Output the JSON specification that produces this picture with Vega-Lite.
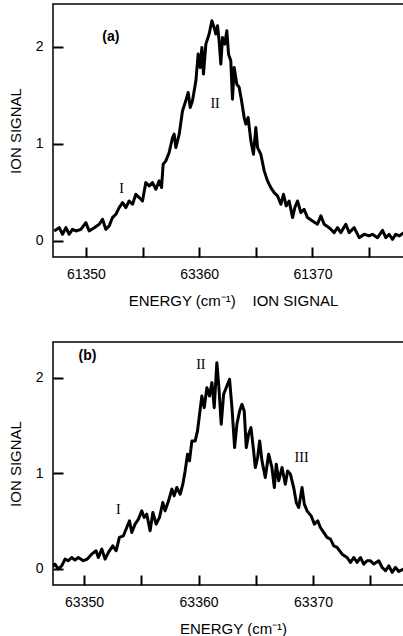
{
  "$schema": "https://vega.github.io/schema/vega-lite/v6.json",
  "padding": {"left": 7, "top": 3, "right": 0, "bottom": 0},
  "config": {
    "font": "Liberation Sans",
    "view": {"stroke": "black", "strokeWidth": 1.5},
    "axis": {"grid": false, "domain": false, "offset": -10, "ticks": true, "tickColor": "black", "tickWidth": 2, "tickSize": 10, "labelPadding": 10, "labelColor": "black", "labelFontSize": 14, "labelFont": "Liberation Sans", "titleFont": "Liberation Sans", "titleFontSize": 15, "titleFontWeight": "normal", "titleColor": "black", "labelFlush": false, "labelOverlap": false},
    "concat": {"spacing": 32}
  },
  "vconcat": [
    {
      "width": 360, "height": 253,
      "encoding": {
        "x": {"field": "energy", "type": "quantitative", "scale": {"domain": [63347.1, 63378.87], "nice": false, "zero": false},
              "axis": {"values": [63350, 63355, 63360, 63365, 63370, 63375], "labelExpr": "datum.value == 63350 ? '61350' : datum.value == 63360 ? '63360' : datum.value == 63370 ? '61370' : ''", "title": "ENERGY (cm⁻¹)\u00a0\u00a0\u00a0\u00a0ION SIGNAL", "titlePadding": 12}},
        "y": {"field": "signal", "type": "quantitative", "scale": {"domain": [-0.165, 2.44], "nice": false, "zero": false},
              "axis": {"values": [0, 1, 2], "title": "ION SIGNAL", "titlePadding": 12}}
      },
      "layer": [
        {
          "data": {"values": [
            {"energy": 63347.21, "signal": 0.103}, {"energy": 63347.65, "signal": 0.137}, {"energy": 63347.94, "signal": 0.069}, {"energy": 63348.24, "signal": 0.137}, {"energy": 63348.53, "signal": 0.069}, {"energy": 63348.82, "signal": 0.120}, {"energy": 63349.12, "signal": 0.103}, {"energy": 63349.56, "signal": 0.120}, {"energy": 63350.00, "signal": 0.189}, {"energy": 63350.29, "signal": 0.103}, {"energy": 63350.74, "signal": 0.137}, {"energy": 63351.18, "signal": 0.172}, {"energy": 63351.47, "signal": 0.223}, {"energy": 63351.76, "signal": 0.120}, {"energy": 63352.06, "signal": 0.155}, {"energy": 63352.35, "signal": 0.241}, {"energy": 63352.65, "signal": 0.275}, {"energy": 63352.94, "signal": 0.344}, {"energy": 63353.24, "signal": 0.395}, {"energy": 63353.53, "signal": 0.344}, {"energy": 63353.82, "signal": 0.412}, {"energy": 63354.12, "signal": 0.378}, {"energy": 63354.41, "signal": 0.481}, {"energy": 63354.71, "signal": 0.447}, {"energy": 63355.00, "signal": 0.412}, {"energy": 63355.29, "signal": 0.601}, {"energy": 63355.59, "signal": 0.567}, {"energy": 63355.88, "signal": 0.601}, {"energy": 63356.18, "signal": 0.533}, {"energy": 63356.47, "signal": 0.619}, {"energy": 63356.68, "signal": 0.550}, {"energy": 63356.82, "signal": 0.790}, {"energy": 63357.06, "signal": 0.825}, {"energy": 63357.35, "signal": 0.911}, {"energy": 63357.65, "signal": 1.065}, {"energy": 63357.79, "signal": 1.100}, {"energy": 63357.94, "signal": 0.962}, {"energy": 63358.24, "signal": 1.100}, {"energy": 63358.53, "signal": 1.340}, {"energy": 63358.82, "signal": 1.443}, {"energy": 63359.03, "signal": 1.529}, {"energy": 63359.21, "signal": 1.375}, {"energy": 63359.41, "signal": 1.443}, {"energy": 63359.71, "signal": 1.649}, {"energy": 63359.91, "signal": 1.924}, {"energy": 63360.09, "signal": 1.787}, {"energy": 63360.24, "signal": 1.993}, {"energy": 63360.38, "signal": 1.718}, {"energy": 63360.59, "signal": 2.027}, {"energy": 63360.88, "signal": 2.131}, {"energy": 63361.12, "signal": 2.268}, {"energy": 63361.32, "signal": 2.199}, {"energy": 63361.47, "signal": 2.131}, {"energy": 63361.62, "signal": 2.216}, {"energy": 63361.76, "signal": 2.062}, {"energy": 63361.91, "signal": 1.821}, {"energy": 63362.06, "signal": 2.096}, {"energy": 63362.26, "signal": 2.027}, {"energy": 63362.44, "signal": 2.165}, {"energy": 63362.59, "signal": 1.924}, {"energy": 63362.79, "signal": 1.856}, {"energy": 63362.94, "signal": 1.460}, {"energy": 63363.09, "signal": 1.787}, {"energy": 63363.32, "signal": 1.615}, {"energy": 63363.53, "signal": 1.581}, {"energy": 63363.74, "signal": 1.443}, {"energy": 63363.97, "signal": 1.271}, {"energy": 63364.12, "signal": 1.203}, {"energy": 63364.32, "signal": 1.271}, {"energy": 63364.56, "signal": 1.031}, {"energy": 63364.79, "signal": 0.893}, {"energy": 63365.00, "signal": 1.168}, {"energy": 63365.15, "signal": 0.962}, {"energy": 63365.44, "signal": 0.893}, {"energy": 63365.74, "signal": 0.722}, {"energy": 63366.03, "signal": 0.619}, {"energy": 63366.32, "signal": 0.550}, {"energy": 63366.62, "signal": 0.498}, {"energy": 63366.91, "signal": 0.464}, {"energy": 63367.21, "signal": 0.378}, {"energy": 63367.44, "signal": 0.481}, {"energy": 63367.68, "signal": 0.361}, {"energy": 63367.94, "signal": 0.412}, {"energy": 63368.24, "signal": 0.241}, {"energy": 63368.44, "signal": 0.344}, {"energy": 63368.68, "signal": 0.412}, {"energy": 63368.97, "signal": 0.292}, {"energy": 63369.26, "signal": 0.326}, {"energy": 63369.56, "signal": 0.241}, {"energy": 63370.00, "signal": 0.206}, {"energy": 63370.44, "signal": 0.172}, {"energy": 63370.74, "signal": 0.258}, {"energy": 63371.03, "signal": 0.172}, {"energy": 63371.47, "signal": 0.137}, {"energy": 63371.91, "signal": 0.086}, {"energy": 63372.21, "signal": 0.137}, {"energy": 63372.50, "signal": 0.086}, {"energy": 63372.94, "signal": 0.172}, {"energy": 63373.24, "signal": 0.086}, {"energy": 63373.68, "signal": 0.137}, {"energy": 63374.12, "signal": 0.034}, {"energy": 63374.56, "signal": 0.069}, {"energy": 63375.00, "signal": 0.052}, {"energy": 63375.29, "signal": 0.069}, {"energy": 63375.74, "signal": 0.034}, {"energy": 63376.18, "signal": 0.110}, {"energy": 63376.47, "signal": 0.034}, {"energy": 63376.76, "signal": 0.069}, {"energy": 63377.06, "signal": 0.017}, {"energy": 63377.35, "signal": 0.069}, {"energy": 63377.65, "signal": 0.052}, {"energy": 63378.06, "signal": 0.086}
          ]},
          "mark": {"type": "line", "color": "black", "strokeWidth": 3, "strokeJoin": "round", "clip": true}
        },
        {
          "data": {"values": [{"energy": 63352.2, "signal": 2.10, "label": "(a)"}]},
          "mark": {"type": "text", "font": "Liberation Sans", "fontWeight": "bold", "fontSize": 14, "color": "black"},
          "encoding": {"text": {"field": "label"}}
        },
        {
          "data": {"values": [{"energy": 63353.15, "signal": 0.536, "label": "I"}, {"energy": 63361.4, "signal": 1.41, "label": "II"}]},
          "mark": {"type": "text", "font": "Liberation Serif", "fontSize": 14, "color": "black"},
          "encoding": {"text": {"field": "label"}}
        }
      ]
    },
    {
      "width": 360, "height": 243,
      "encoding": {
        "x": {"field": "energy", "type": "quantitative", "scale": {"domain": [63347.29, 63378.73], "nice": false, "zero": false},
              "axis": {"values": [63350, 63355, 63360, 63365, 63370, 63375], "labelExpr": "datum.value % 10 == 0 ? format(datum.value, 'd') : ''", "title": "ENERGY (cm⁻¹)", "titlePadding": 12}},
        "y": {"field": "signal", "type": "quantitative", "scale": {"domain": [-0.17, 2.373], "nice": false, "zero": false},
              "axis": {"values": [0, 1, 2], "title": "ION SIGNAL", "titlePadding": 12}}
      },
      "layer": [
        {
          "data": {"values": [
            {"energy": 63347.17, "signal": 0.014}, {"energy": 63347.46, "signal": 0.049}, {"energy": 63347.76, "signal": -0.003}, {"energy": 63348.05, "signal": 0.031}, {"energy": 63348.34, "signal": 0.101}, {"energy": 63348.63, "signal": 0.084}, {"energy": 63348.92, "signal": 0.118}, {"energy": 63349.21, "signal": 0.091}, {"energy": 63349.50, "signal": 0.118}, {"energy": 63349.94, "signal": 0.084}, {"energy": 63350.29, "signal": 0.101}, {"energy": 63350.67, "signal": 0.153}, {"energy": 63351.05, "signal": 0.188}, {"energy": 63351.25, "signal": 0.118}, {"energy": 63351.55, "signal": 0.206}, {"energy": 63351.84, "signal": 0.101}, {"energy": 63352.13, "signal": 0.171}, {"energy": 63352.51, "signal": 0.240}, {"energy": 63352.80, "signal": 0.188}, {"energy": 63353.09, "signal": 0.328}, {"energy": 63353.44, "signal": 0.345}, {"energy": 63353.73, "signal": 0.432}, {"energy": 63353.97, "signal": 0.502}, {"energy": 63354.17, "signal": 0.380}, {"energy": 63354.46, "signal": 0.467}, {"energy": 63354.75, "signal": 0.519}, {"energy": 63355.04, "signal": 0.606}, {"energy": 63355.25, "signal": 0.537}, {"energy": 63355.48, "signal": 0.571}, {"energy": 63355.77, "signal": 0.397}, {"energy": 63356.01, "signal": 0.589}, {"energy": 63356.30, "signal": 0.467}, {"energy": 63356.59, "signal": 0.537}, {"energy": 63356.88, "signal": 0.693}, {"energy": 63357.08, "signal": 0.606}, {"energy": 63357.38, "signal": 0.711}, {"energy": 63357.67, "signal": 0.833}, {"energy": 63357.87, "signal": 0.763}, {"energy": 63358.10, "signal": 0.850}, {"energy": 63358.40, "signal": 0.780}, {"energy": 63358.63, "signal": 0.885}, {"energy": 63358.83, "signal": 1.024}, {"energy": 63359.04, "signal": 1.199}, {"energy": 63359.21, "signal": 1.129}, {"energy": 63359.42, "signal": 1.338}, {"energy": 63359.71, "signal": 1.338}, {"energy": 63359.91, "signal": 1.443}, {"energy": 63360.09, "signal": 1.617}, {"energy": 63360.29, "signal": 1.808}, {"energy": 63360.50, "signal": 1.686}, {"energy": 63360.73, "signal": 1.895}, {"energy": 63360.96, "signal": 1.808}, {"energy": 63361.17, "signal": 1.948}, {"energy": 63361.37, "signal": 1.686}, {"energy": 63361.60, "signal": 2.157}, {"energy": 63361.78, "signal": 1.895}, {"energy": 63361.98, "signal": 1.512}, {"energy": 63362.19, "signal": 1.826}, {"energy": 63362.42, "signal": 1.895}, {"energy": 63362.71, "signal": 1.983}, {"energy": 63362.92, "signal": 1.686}, {"energy": 63363.15, "signal": 1.268}, {"energy": 63363.35, "signal": 1.512}, {"energy": 63363.59, "signal": 1.652}, {"energy": 63363.79, "signal": 1.721}, {"energy": 63363.99, "signal": 1.652}, {"energy": 63364.17, "signal": 1.268}, {"energy": 63364.37, "signal": 1.408}, {"energy": 63364.58, "signal": 1.477}, {"energy": 63364.81, "signal": 1.233}, {"energy": 63364.96, "signal": 1.059}, {"energy": 63365.16, "signal": 1.164}, {"energy": 63365.34, "signal": 1.338}, {"energy": 63365.54, "signal": 1.129}, {"energy": 63365.83, "signal": 0.955}, {"energy": 63366.12, "signal": 1.199}, {"energy": 63366.41, "signal": 1.059}, {"energy": 63366.62, "signal": 0.850}, {"energy": 63366.79, "signal": 1.094}, {"energy": 63367.00, "signal": 0.920}, {"energy": 63367.29, "signal": 1.059}, {"energy": 63367.58, "signal": 0.885}, {"energy": 63367.78, "signal": 1.024}, {"energy": 63368.02, "signal": 0.990}, {"energy": 63368.31, "signal": 0.850}, {"energy": 63368.54, "signal": 0.693}, {"energy": 63368.75, "signal": 0.641}, {"energy": 63369.04, "signal": 0.850}, {"energy": 63369.24, "signal": 0.676}, {"energy": 63369.48, "signal": 0.606}, {"energy": 63369.83, "signal": 0.554}, {"energy": 63370.12, "signal": 0.467}, {"energy": 63370.41, "signal": 0.502}, {"energy": 63370.64, "signal": 0.432}, {"energy": 63370.93, "signal": 0.380}, {"energy": 63371.22, "signal": 0.328}, {"energy": 63371.52, "signal": 0.310}, {"energy": 63371.81, "signal": 0.240}, {"energy": 63372.10, "signal": 0.223}, {"energy": 63372.54, "signal": 0.153}, {"energy": 63372.97, "signal": 0.118}, {"energy": 63373.27, "signal": 0.066}, {"energy": 63373.56, "signal": 0.118}, {"energy": 63373.85, "signal": 0.066}, {"energy": 63374.14, "signal": 0.118}, {"energy": 63374.43, "signal": 0.049}, {"energy": 63374.72, "signal": 0.084}, {"energy": 63375.01, "signal": 0.084}, {"energy": 63375.31, "signal": 0.049}, {"energy": 63375.74, "signal": 0.084}, {"energy": 63376.03, "signal": 0.014}, {"energy": 63376.33, "signal": -0.021}, {"energy": 63376.62, "signal": 0.031}, {"energy": 63376.91, "signal": -0.038}, {"energy": 63377.20, "signal": 0.014}, {"energy": 63377.49, "signal": -0.028}, {"energy": 63377.90, "signal": -0.003}
          ]},
          "mark": {"type": "line", "color": "black", "strokeWidth": 3, "strokeJoin": "round", "clip": true}
        },
        {
          "data": {"values": [{"energy": 63350.3, "signal": 2.23, "label": "(b)"}]},
          "mark": {"type": "text", "font": "Liberation Sans", "fontWeight": "bold", "fontSize": 14, "color": "black"},
          "encoding": {"text": {"field": "label"}}
        },
        {
          "data": {"values": [{"energy": 63353.0, "signal": 0.61, "label": "I"}, {"energy": 63360.2, "signal": 2.13, "label": "II"}, {"energy": 63369.0, "signal": 1.16, "label": "III"}]},
          "mark": {"type": "text", "font": "Liberation Serif", "fontSize": 14, "color": "black"},
          "encoding": {"text": {"field": "label"}}
        }
      ]
    }
  ]
}
